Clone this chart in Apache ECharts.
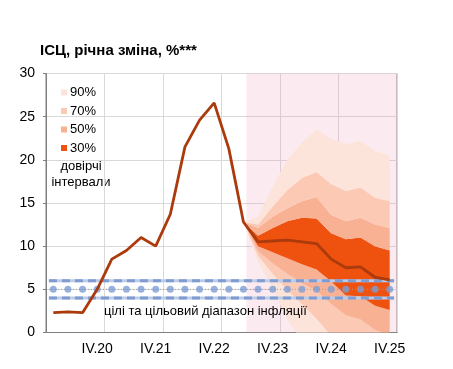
<!DOCTYPE html>
<html><head><meta charset="utf-8">
<script src="https://cdn.jsdelivr.net/npm/echarts@6/dist/echarts.min.js"></script>
<style>html,body{margin:0;padding:0;background:#fff}#c{width:453px;height:369px}</style>
</head><body><div id="c"></div>
<script>
const categories = ['I.20','II.20','III.20','IV.20','I.21','II.21','III.21','IV.21','I.22','II.22','III.22','IV.22',
  'I.23','II.23','III.23','IV.23','I.24','II.24','III.24','IV.24','I.25','II.25','III.25','IV.25'];
const cpi = [2.3,2.4,2.3,5.0,8.5,9.5,11.0,10.0,13.7,21.5,24.6,26.6,21.3,12.8,10.5,10.6,10.7,10.5,10.3,8.5,7.5,7.6,6.4,6.1];
const fanStart = 13;
const ci30Upper = [12.8,11.2,12.1,12.9,13.3,13.2,11.5,10.8,11.0,10.0,9.5];
const ci30Lower = [12.8,10.0,9.3,8.6,7.9,7.3,5.9,4.3,4.2,3.1,2.6];
const ci50Upper = [12.8,12.1,13.4,14.4,15.2,15.7,13.6,12.9,13.3,12.5,12.1];
const ci50Lower = [12.8,9.4,8.0,6.8,5.7,4.8,3.3,2.0,1.5,0.3,-0.3];
const ci70Upper = [12.8,12.5,14.6,16.5,17.9,18.6,17.2,16.4,16.8,15.6,15.2];
const ci70Lower = [12.8,8.9,6.8,4.9,3.3,1.6,-0.4,-1.5,-1.8,-2.8,-3.2];
const ci90Upper = [12.8,13.4,16.9,20.0,22.0,23.5,22.4,21.8,22.2,21.0,20.5];
const ci90Lower = [12.8,8.2,5.0,1.5,-1.0,-3.5,-5.0,-6.0,-6.5,-7.5,-8.0];
const targetCenter = 5;
const targetLow = 4;
const targetHigh = 6;
const targetSpan = [-0.3, 23.3];
const forecastSpan = [13.2, 23.5];
const yTicks = [0, 5, 10, 15, 20, 25, 30];

const C90 = '#fde4da', C70 = '#fccab4', C50 = '#f9b193', C30 = '#ef520f';
function pad(arr){ const out = []; for (let i=0;i<fanStart;i++) out.push('-'); return out.concat(arr); }
function diff(a,b){ return pad(a.map((v,i)=>+(v-b[i]).toFixed(2))); }
function band(name, color, data){
  return {type:'line', name, stack:'fan', stackStrategy:'all', data, symbol:'none', silent:true,
    lineStyle:{width:0}, itemStyle:{color}, areaStyle:{color, opacity:1}, z:2};
}
const FONT = '13px Liberation Sans, Arial';
const chart = echarts.init(document.getElementById('c'));
chart.setOption({
  animation:false,
  textStyle:{fontFamily:'Liberation Sans, Arial, sans-serif'},
  title:{text:'ІСЦ, річна зміна, %***', left:40, top:43, padding:0,
    textStyle:{fontSize:15, fontWeight:'bold', color:'#000'}},
  legend:{data:['90%','70%','50%','30%'], orient:'vertical', left:61, top:86, padding:0, icon:'rect',
    itemWidth:6, itemHeight:6, itemGap:5.5, selectedMode:false,
    textStyle:{fontSize:13, lineHeight:13, color:'#000', padding:[0,0,0,-2]}},
  grid:{left:46, right:56, top:73.5, bottom:36.5, show:true, borderColor:'#7f7f7f', borderWidth:1, backgroundColor:'transparent'},
  xAxis:[{type:'category', data:categories, boundaryGap:true,
    axisLine:{lineStyle:{color:'#7f7f7f', width:1}},
    axisTick:{interval:3, length:3, lineStyle:{color:'#7f7f7f'}},
    splitLine:{show:true, interval:3, lineStyle:{color:'#d9d9d9'}},
    axisLabel:{interval:(i)=>i%4===3, fontSize:14, color:'#000', margin:10}},
   {type:'value', min:-0.5, max:23.5, show:false}],
  yAxis:{type:'value', min:0, max:30, interval:5,
    axisLine:{show:true, onZero:false, lineStyle:{color:'#7f7f7f'}},
    axisTick:{show:true, length:3, lineStyle:{color:'#7f7f7f'}},
    splitLine:{lineStyle:{color:'#d9d9d9'}},
    axisLabel:{fontSize:14, color:'#000', margin:11,
      formatter:(v)=> yTicks.includes(v) ? String(v) : ''}},
  graphic:[
    {type:'text', x:81, y:166.7, style:{text:'довірчі', fill:'#000', font:FONT, align:'center', verticalAlign:'middle'}},
    {type:'text', x:81, y:182.3, style:{text:'інтервали', fill:'#000', font:FONT, align:'center', verticalAlign:'middle'}},
    {type:'text', x:104, y:311.7, z:100, style:{text:'цілі та цільовий діапазон інфляції', fill:'#000', font:FONT, align:'left', verticalAlign:'middle'}}
  ],
  series:[
    {type:'line', name:'base', stack:'fan', stackStrategy:'all', data:pad(ci90Lower), symbol:'none', silent:true, lineStyle:{width:0}, z:2},
    band('90%', C90, diff(ci70Lower, ci90Lower)),
    band('70%', C70, diff(ci50Lower, ci70Lower)),
    band('50%', C50, diff(ci30Lower, ci50Lower)),
    band('30%', C30, diff(ci30Upper, ci30Lower)),
    band('50%', C50, diff(ci50Upper, ci30Upper)),
    band('70%', C70, diff(ci70Upper, ci50Upper)),
    band('90%', C90, diff(ci90Upper, ci70Upper)),
    {type:'line', name:'forecastArea', xAxisIndex:1, data:[], symbol:'none', silent:true,
      markArea:{silent:true, itemStyle:{color:'rgba(240,150,185,0.2)'}, data:[[{xAxis:forecastSpan[0]},{xAxis:forecastSpan[1]}]]}},
    {type:'line', name:'lowBg', xAxisIndex:1, data:targetSpan.map(x=>[x,targetLow]), symbol:'none', silent:true, lineStyle:{color:'#bccbe8', width:3}, z:5},
    {type:'line', name:'lowDash', xAxisIndex:1, data:targetSpan.map(x=>[x,targetLow]), symbol:'none', silent:true, lineStyle:{color:'#7f9bcf', width:3, type:[8,5]}, z:6},
    {type:'line', name:'highBg', xAxisIndex:1, data:targetSpan.map(x=>[x,targetHigh]), symbol:'none', silent:true, lineStyle:{color:'#bccbe8', width:3}, z:5},
    {type:'line', name:'highDash', xAxisIndex:1, data:targetSpan.map(x=>[x,targetHigh]), symbol:'none', silent:true, lineStyle:{color:'#7f9bcf', width:3, type:[8,5]}, z:6},
    {type:'line', name:'midLine', xAxisIndex:1, data:targetSpan.map(x=>[x,targetCenter]), symbol:'none', silent:true, lineStyle:{color:'#9a9a9a', width:1, type:[1,2]}, z:6},
    {type:'scatter', name:'target', data:categories.map(()=>targetCenter), symbol:'circle', symbolSize:7, silent:true, itemStyle:{color:'#7d9dd3'}, z:7},
    {type:'line', name:'cpi', data:cpi, symbol:'none', silent:true, lineStyle:{color:'#ab3a0c', width:2.8}, z:8}
  ]
});
</script></body></html>
